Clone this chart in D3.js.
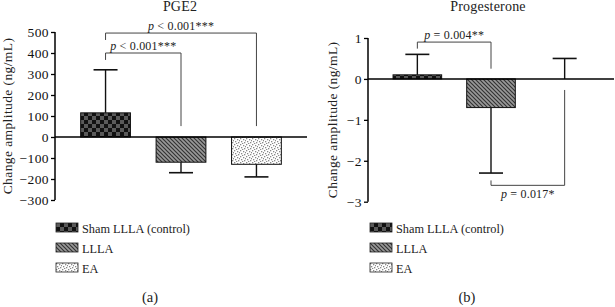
<!DOCTYPE html>
<html>
<head>
<meta charset="utf-8">
<script src="https://cdn.jsdelivr.net/npm/d3@7"></script>
<style>
  body { margin: 0; background: #fff; }
  svg { display: block; font-family: "Liberation Serif", "DejaVu Serif", serif; }
</style>
</head>
<body>
<svg id="chart" width="615" height="307"></svg>
<script>
// groups shared by both panels
const groups = ["Sham LLLA (control)", "LLLA", "EA"];

// PGE2 change amplitude (ng/mL): mean and SD
const pgeMean = [115, -120, -130];
const pgeSd = [205, 50, 60];
const pgeTicks = [500, 400, 300, 200, 100, 0, -100, -200, -300];

// Progesterone change amplitude (ng/mL): mean and SD
const progMean = [0.1, -0.7, 0];
const progSd = [0.5, 1.6, 0.5];
const progTicks = [1, 0, -1, -2, -3];

// significance brackets: [from, to, level, fromLegEnd, toLegEnd, label, side]
const pgeBrackets = [
  [0, 2, 495, 462, 52, "< 0.001***", "above"],
  [0, 1, 400, 367, 52, "< 0.001***", "above"]
];
const progBrackets = [
  [0, 1, 0.9, 0.74, 0.25, "= 0.004**", "above"],
  [1, 2, -2.6, -2.48, -0.27, "= 0.017*", "below"]
];

const svg = d3.select("#chart");

// fill patterns
const defs = svg.append("defs");

const checker = defs.append("pattern")
  .attr("id", "checker").attr("patternUnits", "userSpaceOnUse")
  .attr("width", 8).attr("height", 8);
checker.append("rect").attr("width", 8).attr("height", 8).attr("fill", "#111");
checker.append("rect").attr("x", 0).attr("y", 0).attr("width", 4).attr("height", 4).attr("fill", "#5a5a5a");
checker.append("rect").attr("x", 4).attr("y", 4).attr("width", 4).attr("height", 4).attr("fill", "#5a5a5a");

const hatch = defs.append("pattern")
  .attr("id", "hatch").attr("patternUnits", "userSpaceOnUse")
  .attr("width", 4).attr("height", 4);
hatch.append("rect").attr("width", 4).attr("height", 4).attr("fill", "#999");
hatch.append("path").attr("d", "M-1,-1 L5,5 M-1,3 L1,5 M3,-1 L5,1")
  .attr("stroke", "#333").attr("stroke-width", 1.2);

const dots = defs.append("pattern")
  .attr("id", "dots").attr("patternUnits", "userSpaceOnUse")
  .attr("width", 6).attr("height", 6);
dots.append("rect").attr("width", 6).attr("height", 6).attr("fill", "#fff");
[[0, 0], [3, 1], [1, 3], [4, 4], [2, 5], [5, 2]].forEach(p => {
  dots.append("rect").attr("x", p[0]).attr("y", p[1]).attr("width", 1.3).attr("height", 1.3).attr("fill", "#8a8a8a");
});

const fills = ["url(#checker)", "url(#hatch)", "url(#dots)"];

function panel(opt) {
  const g = svg.append("g");

  const x = d3.scaleBand().domain(d3.range(groups.length))
    .range([opt.x0, opt.x1]).padding(0.34);
  const y = d3.scaleLinear().domain(opt.domain).range([opt.yBottom, opt.yTop]);

  // y axis
  const axis = g.append("g")
    .attr("transform", `translate(${opt.x0},0)`)
    .call(d3.axisLeft(y).tickValues(opt.ticks).tickSize(4).tickPadding(2)
      .tickFormat(d => d < 0 ? "\u2212" + Math.abs(d) : d));
  axis.select(".domain").attr("stroke", "#000").attr("stroke-width", 1.5).attr("d", `M0,${opt.yBottom}V${opt.yTop}`);
  axis.selectAll(".tick line").attr("stroke-width", 1.3);
  axis.selectAll("text").attr("font-size", 13.5).attr("letter-spacing", 0.4)
    .attr("font-family", "Liberation Serif").attr("fill", "#111");

  // bars
  g.selectAll("rect.bar").data(opt.mean).join("rect")
    .attr("class", "bar")
    .attr("x", (d, i) => x(i))
    .attr("width", x.bandwidth())
    .attr("y", d => Math.min(y(d), y(0)))
    .attr("height", d => Math.abs(y(d) - y(0)))
    .attr("fill", (d, i) => fills[i])
    .attr("stroke", "#111").attr("stroke-width", 1);

  // error bars (one-sided, away from zero)
  opt.mean.forEach((m, i) => {
    const cx = x(i) + x.bandwidth() / 2;
    const end = m >= 0 ? m + opt.sd[i] : m - opt.sd[i];
    g.append("line").attr("x1", cx).attr("x2", cx).attr("y1", y(m)).attr("y2", y(end))
      .attr("stroke", "#111").attr("stroke-width", 1.4);
    g.append("line").attr("x1", cx - 12).attr("x2", cx + 12).attr("y1", y(end)).attr("y2", y(end))
      .attr("stroke", "#111").attr("stroke-width", 1.6);
  });

  // x axis (zero line)
  g.append("line").attr("x1", opt.x0).attr("x2", opt.x1).attr("y1", y(0)).attr("y2", y(0))
    .attr("stroke", "#000").attr("stroke-width", 1.4);

  // brackets
  opt.brackets.forEach(b => {
    const xa = x(b[0]) + x.bandwidth() / 2;
    const xb = x(b[1]) + x.bandwidth() / 2;
    g.append("path")
      .attr("d", `M${xa},${y(b[3])}V${y(b[2])}H${xb}V${y(b[4])}`)
      .attr("fill", "none").attr("stroke", "#444").attr("stroke-width", 1);
    const t = g.append("text")
      .attr("x", (xa + xb) / 2)
      .attr("y", b[6] === "above" ? y(b[2]) - 3 : y(b[2]) + 13)
      .attr("text-anchor", "middle").attr("font-size", 12).attr("letter-spacing", 0.2).attr("fill", "#222");
    t.append("tspan").attr("font-style", "italic").text("p");
    t.append("tspan").text(" " + b[5]);
  });

  // title
  g.append("text").attr("x", opt.titleX).attr("y", 11)
    .attr("text-anchor", "middle").attr("font-size", 14).attr("letter-spacing", 0.2)
    .attr("fill", "#222").text(opt.title);

  // y label
  g.append("text")
    .attr("transform", `translate(${opt.labelX},${(opt.yTop + opt.yBottom) / 2}) rotate(-90)`)
    .attr("text-anchor", "middle").attr("font-size", 13.5).attr("letter-spacing", 0.4).attr("fill", "#222")
    .text("Change amplitude (ng/mL)");

  // legend
  const leg = g.selectAll("g.leg").data(groups).join("g")
    .attr("class", "leg")
    .attr("transform", (d, i) => `translate(${opt.legX},${223 + i * 20})`);
  leg.append("rect").attr("width", 22).attr("height", 9)
    .attr("fill", (d, i) => fills[i]).attr("stroke", "#222").attr("stroke-width", 0.8);
  leg.append("text").attr("x", 26).attr("y", 9.5).attr("font-size", 12.3)
    .attr("fill", "#222").text(d => d);

  // panel letter
  g.append("text").attr("x", opt.letterX).attr("y", 302)
    .attr("text-anchor", "middle").attr("font-size", 14.5).attr("fill", "#222").text(opt.letter);
}

panel({
  x0: 55, x1: 307, yTop: 32, yBottom: 200, domain: [-300, 500], ticks: pgeTicks,
  mean: pgeMean, sd: pgeSd, brackets: pgeBrackets,
  title: "PGE2", titleX: 180, labelX: 12, legX: 56, letterX: 150, letter: "(a)"
});

panel({
  x0: 368, x1: 614, yTop: 38, yBottom: 201.7, domain: [-3, 1], ticks: progTicks,
  mean: progMean, sd: progSd, brackets: progBrackets,
  title: "Progesterone", titleX: 488, labelX: 337, legX: 370, letterX: 467, letter: "(b)"
});
</script>
</body>
</html>
